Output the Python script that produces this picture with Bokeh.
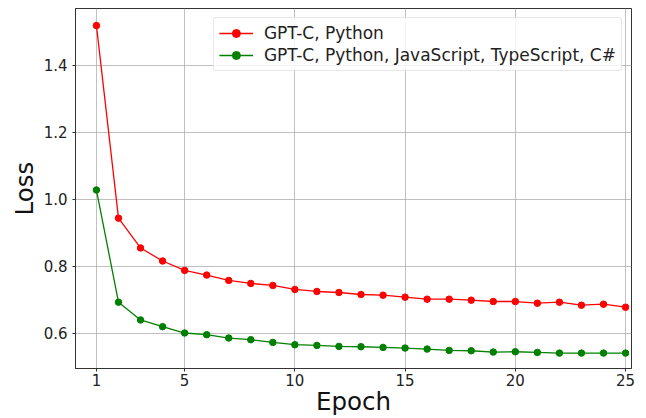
from bokeh.plotting import figure
from bokeh.models import Range1d, FixedTicker, Legend, LegendItem
from bokeh.embed import file_html
from bokeh.resources import INLINE

epochs = list(range(1, 26))
loss_python = [1.519, 0.944, 0.855, 0.816, 0.788, 0.774, 0.758, 0.749, 0.743, 0.731,
               0.725, 0.722, 0.716, 0.714, 0.708, 0.702, 0.702, 0.699, 0.695, 0.695,
               0.690, 0.693, 0.684, 0.687, 0.678]
loss_multi = [1.028, 0.693, 0.640, 0.620, 0.601, 0.596, 0.586, 0.581, 0.573, 0.566,
              0.564, 0.561, 0.560, 0.558, 0.556, 0.553, 0.549, 0.548, 0.544, 0.545,
              0.543, 0.541, 0.541, 0.541, 0.541]
x_ticks = [1, 5, 10, 15, 20, 25]
y_ticks = [0.6, 0.8, 1.0, 1.2, 1.4]
labels = ["GPT-C, Python", "GPT-C, Python, JavaScript, TypeScript, C#"]

FONT = "DejaVu Sans"

p = figure(width=646, height=418, output_backend="svg", toolbar_location=None,
           x_range=Range1d(0.05, 25.27), y_range=Range1d(0.495, 1.57),
           min_border_left=75, min_border_right=15, min_border_top=8, min_border_bottom=0)

p.outline_line_color = "#333333"
p.outline_line_width = 1

for ax in (p.xaxis[0], p.yaxis[0]):
    ax.axis_line_color = "#333333"
    ax.major_tick_line_color = "#333333"
    ax.major_tick_out = 3
    ax.major_tick_in = 0
    ax.minor_tick_line_color = None
    ax.major_label_text_font = FONT
    ax.major_label_text_font_size = "15px"
    ax.major_label_text_color = "#222222"
    ax.axis_label_text_font = FONT
    ax.axis_label_text_font_size = "24.5px"
    ax.axis_label_text_font_style = "normal"
    ax.axis_label_text_color = "#111111"

p.xaxis.ticker = FixedTicker(ticks=x_ticks)
p.yaxis.ticker = FixedTicker(ticks=y_ticks)
p.yaxis.major_label_overrides = {v: f"{v:.1f}" for v in y_ticks}
p.xaxis.axis_label = "Epoch"
p.yaxis.axis_label = "Loss"
p.xaxis.major_label_standoff = 2
p.yaxis.major_label_standoff = 5
p.xaxis.axis_label_standoff = -2
p.yaxis.axis_label_standoff = 2

p.xgrid.ticker = FixedTicker(ticks=x_ticks)
p.ygrid.ticker = FixedTicker(ticks=y_ticks)
p.grid.grid_line_color = "#b0b0b0"
p.grid.grid_line_width = 0.8

l1 = p.line(epochs, loss_python, color="#ff0000", line_width=1.3)
c1 = p.scatter(epochs, loss_python, color="#ff0000", size=6.5)
l2 = p.line(epochs, loss_multi, color="#008000", line_width=1.3)
c2 = p.scatter(epochs, loss_multi, color="#008000", size=6.5)

legend = Legend(items=[LegendItem(label=labels[0], renderers=[l1, c1]),
                       LegendItem(label=labels[1], renderers=[l2, c2])],
                location="top_right")
legend.margin = 9
legend.padding = 5
legend.spacing = 2
legend.glyph_width = 34
legend.glyph_height = 20
legend.label_height = 20
legend.label_standoff = 11
legend.label_text_font = FONT
legend.label_text_font_size = "17px"
legend.label_text_color = "#222222"
legend.label_text_baseline = "middle"
legend.border_line_color = "#d0d0d0"
legend.border_line_width = 1
legend.background_fill_alpha = 0.8
legend.border_radius = 3
p.add_layout(legend)

open("out.html", "w").write(file_html(p, INLINE))
